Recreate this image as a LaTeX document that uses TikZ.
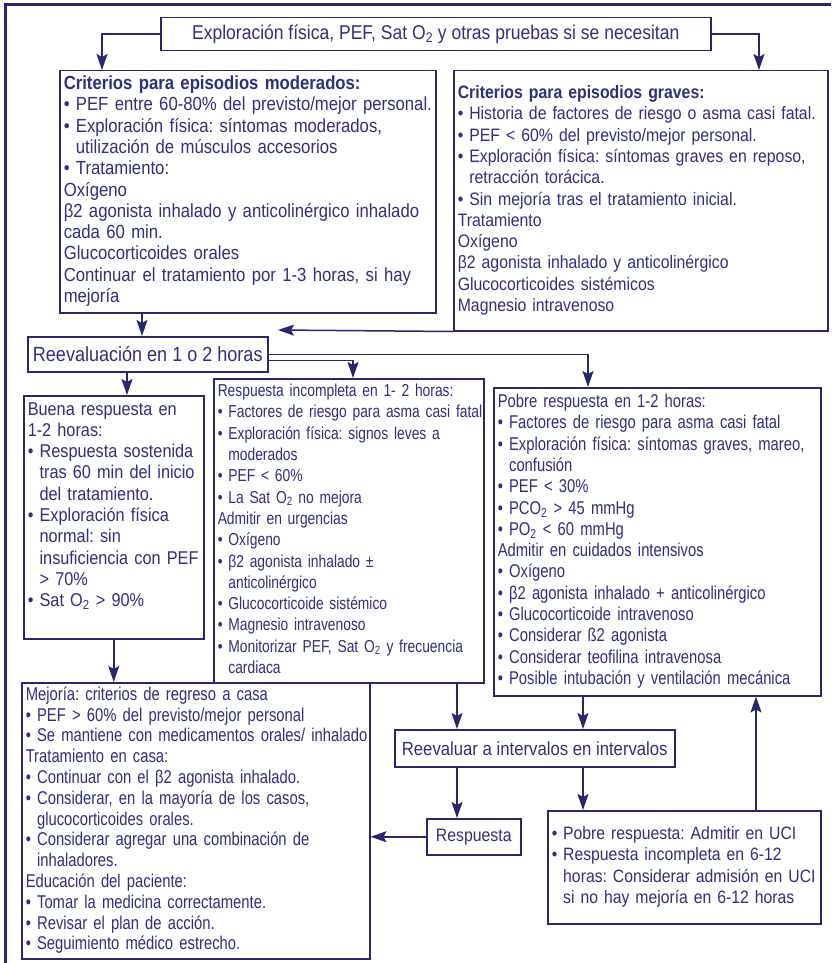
\documentclass[tikz,border=0pt]{standalone}
\usepackage{fontspec}
\setmainfont{Liberation Sans}[FakeStretch=0.88]
\newfontfamily\estrecha{Liberation Sans}[FakeStretch=0.8]
\usepackage{tikz}
\usetikzlibrary{arrows.meta, positioning, calc}
\definecolor{azulLinea}{HTML}{26276F}
\definecolor{azulTexto}{HTML}{2E2F7E}
\frenchspacing
\newcommand{\vi}{\textbullet\ }
\newcommand{\sang}{\phantom{\textbullet\ }}
\newcommand{\dos}{\textsubscript{2}}
\newcommand{\lineas}[1]{\begin{tabular}{@{}l@{}}#1\end{tabular}}

\begin{document}
\begin{tikzpicture}[
        x=1pt, y=-1pt,
        tam/.style={font=\fontsize{#1}{21.3}\selectfont},
        angosta/.style={font=\estrecha\fontsize{#1}{21.3}\selectfont},
        caja/.style={draw=azulLinea, line width=1.5pt, anchor=north west,
            inner xsep=4pt, inner ysep=3pt, text=azulTexto, tam=19},
        linea/.style={draw=azulLinea, line width=1.5pt, anchor=north west, align=center,
            inner sep=2pt, text=azulTexto, tam=19},
        flecha/.style={-{Stealth[length=16pt, width=11pt, inset=3pt]}, azulLinea, line width=1.5pt}
    ]
    \useasboundingbox (0,0) rectangle (831,963);
    \draw[azulLinea, line width=3pt] (831,5) -- (5,5) -- (5,963);

    \node[linea, tam=19.9, minimum width=550pt, minimum height=33pt] (inicio) at (160,17)
        {Exploración física, PEF, Sat O\dos{} y otras pruebas si se necesitan};
    \node[caja, text width=368pt, minimum height=242pt] (moderado) at (59,70)
        {\lineas{\textbf{Criterios para episodios moderados:}\\
         \vi PEF entre 60-80\% del previsto/mejor personal.\\
         \vi Exploración física: síntomas moderados,\\
         \sang utilización de músculos accesorios\\
         \vi Tratamiento:\\
         Oxígeno\\
         β2 agonista inhalado y anticolinérgico inhalado\\
         cada 60 min.\\
         Glucocorticoides orales\\
         Continuar el tratamiento por 1-3 horas, si hay\\
         mejoría}};
    \node[caja, tam=18, text width=366pt, minimum height=260pt] (grave) at (453,70)
        {\lineas{\textbf{Criterios para episodios graves:}\\
         \vi Historia de factores de riesgo o asma casi fatal.\\
         \vi PEF < 60\% del previsto/mejor personal.\\
         \vi Exploración física: síntomas graves en reposo,\\
         \sang retracción torácica.\\
         \vi Sin mejoría tras el tratamiento inicial.\\
         Tratamiento\\
         Oxígeno\\
         β2 agonista inhalado y anticolinérgico\\
         Glucocorticoides sistémicos\\
         Magnesio intravenoso}};
    \node[linea, tam=20.5, minimum width=240pt, minimum height=35pt] (reeval1) at (27,336)
        {Reevaluación en 1 o 2 horas};
    \node[caja, tam=18.5, text width=172pt, minimum height=243pt] (buena) at (23,395)
        {\lineas{Buena respuesta en\\
         1-2 horas:\\
         \vi Respuesta sostenida\\
         \sang tras 60 min del inicio\\
         \sang del tratamiento.\\
         \vi Exploración física\\
         \sang normal: sin\\
         \sang insuficiencia con PEF\\
         \sang > 70\%\\
         \vi Sat O\dos{} > 90\%\\
         {}}};
    \node[caja, angosta=17.3, text width=262pt, minimum height=299pt] (incompleta) at (213,378)
        {\lineas{Respuesta incompleta en 1- 2 horas:\\
         \vi Factores de riesgo para asma casi fatal\\
         \vi Exploración física: signos leves a\\
         \sang moderados\\
         \vi PEF < 60\%\\
         \vi La Sat O\dos{} no mejora\\
         Admitir en urgencias\\
         \vi Oxígeno\\
         \vi β2 agonista inhalado ±\\
         \sang anticolinérgico\\
         \vi Glucocorticoide sistémico\\
         \vi Magnesio intravenoso\\
         \vi Monitorizar PEF, Sat O\dos{} y frecuencia\\
         \sang cardiaca}};
    \node[caja, angosta=18.5, text width=319pt, minimum height=308pt] (pobre) at (493,387)
        {\lineas{Pobre respuesta en 1-2 horas:\\
         \vi Factores de riesgo para asma casi fatal\\
         \vi Exploración física: síntomas graves, mareo,\\
         \sang confusión\\
         \vi PEF < 30\%\\
         \vi PCO\dos{} > 45 mmHg\\
         \vi PO\dos{} < 60 mmHg\\
         Admitir en cuidados intensivos\\
         \vi Oxígeno\\
         \vi β2 agonista inhalado + anticolinérgico\\
         \vi Glucocorticoide intravenoso\\
         \vi Considerar ß2 agonista\\
         \vi Considerar teofilina intravenosa\\
         \vi Posible intubación y ventilación mecánica}};
    \node[caja, text width=340pt, minimum height=273pt, font=\estrecha\fontsize{18.5}{20.8}\selectfont] (mejoria) at (21,682)
        {\lineas{Mejoría: criterios de regreso a casa\\
         \vi PEF > 60\% del previsto/mejor personal\\
         \vi Se mantiene con medicamentos orales/ inhalado\\
         Tratamiento en casa:\\
         \vi Continuar con el β2 agonista inhalado.\\
         \vi Considerar, en la mayoría de los casos,\\
         \sang glucocorticoides orales.\\
         \vi Considerar agregar una combinación de\\
         \sang inhaladores.\\
         Educación del paciente:\\
         \vi Tomar la medicina correctamente.\\
         \vi Revisar el plan de acción.\\
         \vi Seguimiento médico estrecho.}};
    \node[linea, minimum width=280pt, minimum height=37pt] (reevaluar) at (394,729)
        {Reevaluar a intervalos en intervalos};
    \node[linea, tam=18, minimum width=94pt, minimum height=36pt] (respuesta) at (426,818)
        {Respuesta};
    \node[caja, tam=17.9, text width=265pt, minimum height=113pt] (uci) at (547,810)
        {\lineas{\vi Pobre respuesta: Admitir en UCI\\
         \vi Respuesta incompleta en 6-12\\
         \sang horas: Considerar admisión en UCI\\
         \sang si no hay mejoría en 6-12 horas}};

    \coordinate (m1) at ([xshift=83pt]moderado.south west);
    \coordinate (r1) at ([xshift=100pt]reeval1.south west);
    \coordinate (i1) at ([xshift=244pt]incompleta.south west);
    \coordinate (p1) at ([xshift=90pt]pobre.south west);
    \coordinate (v1) at ([xshift=63pt]reevaluar.south west);
    \coordinate (v2) at ([xshift=189pt]reevaluar.south west);
    \coordinate (u1) at ([xshift=209pt]uci.north west);
    \coordinate (puntaGrave) at (278,330);

    \draw[flecha] (inicio.west) -| ([xshift=43pt]moderado.north west);
    \draw[flecha] (inicio.east) -| ([xshift=306pt]grave.north west);
    \draw[flecha] (m1) -- (m1 |- reeval1.north);
    \draw[flecha] (grave.south west) -- (puntaGrave);
    \draw[flecha] (r1) -- (r1 |- buena.north);
    \draw[flecha] (reeval1.east) -| ([xshift=95pt]pobre.north west);
    \draw[flecha] ([yshift=-6pt]reeval1.east) -| ([xshift=140pt]incompleta.north west);
    \draw[flecha] (buena.south) -- (buena.south |- mejoria.north);
    \draw[flecha] (i1) -- (i1 |- reevaluar.north); \draw[flecha] (p1) -- (p1 |- reevaluar.north);
    \draw[flecha] (v1) -- (v1 |- respuesta.north); \draw[flecha] (v2) -- (v2 |- uci.north);
    \draw[flecha] (respuesta.west) -- (respuesta.west -| mejoria.east);
    \draw[flecha] (u1) -- (u1 |- pobre.south);
\end{tikzpicture}
\end{document}
